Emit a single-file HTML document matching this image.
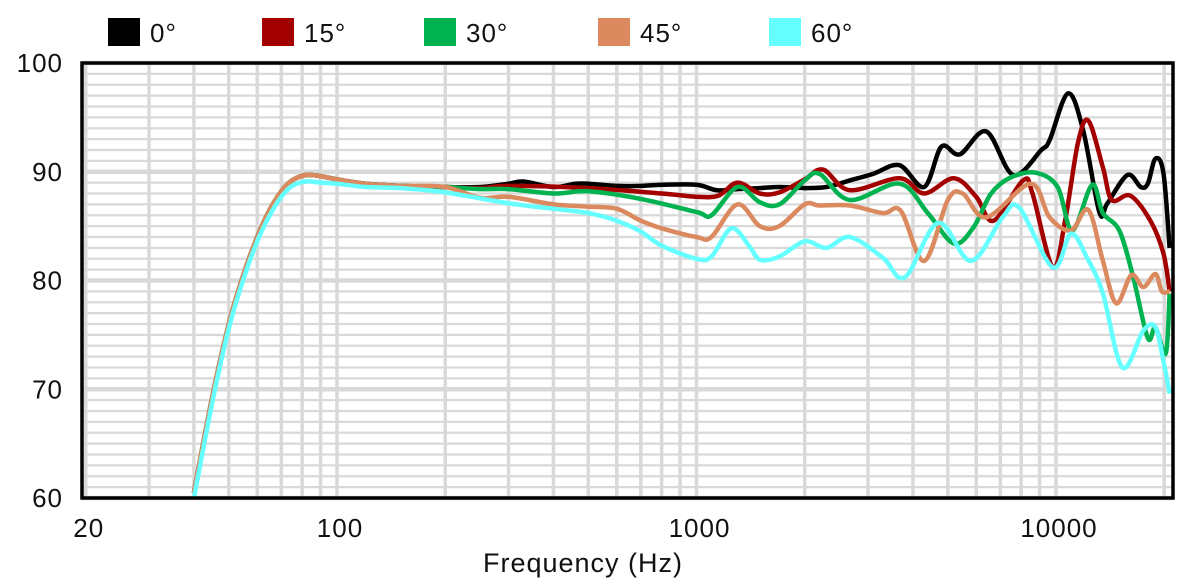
<!DOCTYPE html>
<html><head><meta charset="utf-8"><style>
html,body{margin:0;padding:0;background:#fff;}
svg{display:block;font-family:"Liberation Sans",sans-serif;}
</style></head><body>
<svg id="chart" width="1196" height="586" viewBox="0 0 1196 586">
<g id="grid"></g>
<g id="series"></g>
<rect x="82" y="63" width="1091" height="435" fill="none" stroke="#000" stroke-width="3.5"/>
<g id="axes"></g>
<g id="legend"></g>
<text x="583" y="572" font-size="27" letter-spacing="1" text-anchor="middle" fill="#111">Frequency (Hz)</text>
</svg>
<script>
const yTicks=[60,70,80,90,100];
const xTickLabels=[20,100,1000,10000];
const seriesNames=["0°","15°","30°","45°","60°"];
const seriesColors=["#000000","#a30000","#00b350","#da8a5e","#66ffff"];
const fLow=[40,45,50,55,60,65,70,75,82,90,100,120,150,200];
const vLow=[60.5,69.3,76,80.6,84,86.5,88.2,89.2,89.7,89.6,89.3,88.9,88.7,88.6];
const vLowCyan=[60,68.8,75.6,80.2,83.6,86,87.7,88.7,89.1,89.0,88.9,88.6,88.5,88.1];
const f0=[250,300,330,400,460,500,600,700,800,1000,1140,1300,1500,1700,2000,2300,2670,3100,3670,4300,4800,5400,6400,7600,9100,9600,10800,11900,13200,13900,15800,17200,18000,18900,19900,20700];
const v0=[88.6,88.9,89.1,88.6,88.9,88.9,88.7,88.7,88.8,88.8,88.3,88.4,88.5,88.6,88.5,88.6,89.2,89.8,90.6,88.6,92.3,91.6,93.7,89.7,92,92.9,97.2,93.8,86.3,87.1,89.7,88.6,88.9,91.2,89.9,83];
const f15=[250,300,500,800,1000,1150,1300,1500,1700,2000,2250,2670,3670,4300,5200,6000,6700,8100,8600,9800,10600,11500,12300,13500,14300,16100,18300,19900,20700];
const v15=[88.5,88.7,88.5,88,87.7,87.8,89.0,88,88.1,89.3,90.2,88.3,89.4,88,89.4,87.7,85.5,89.2,88,81.2,85.5,92.6,94.7,90.4,87.4,87.8,85.5,82.5,79];
const f30=[250,300,400,500,700,1000,1100,1300,1500,1700,2000,2200,2670,3670,4400,5200,5900,6600,7500,8800,10100,11100,12600,13500,15000,16400,18000,18900,20200,20700];
const v30=[88.4,88.4,88.0,88.2,87.5,86.3,86.0,88.6,87.2,87.0,89.2,89.8,87.4,88.9,86.2,83.4,84.9,88,89.5,89.9,88.6,84.6,88.8,86.2,84.6,80.3,74.7,75.7,73.3,78.8];
const f45=[250,300,400,500,600,700,800,1000,1100,1300,1500,1700,2000,2200,2670,3300,3700,4300,5000,5500,6400,8500,9600,11000,12300,13500,14700,16200,17500,18900,19700,20700];
const v45=[87.6,87.7,87,86.8,86.6,85.5,84.8,84,84,87,85,85,87,86.9,86.9,86.2,86.4,81.8,87.4,88,85.8,88.9,85.8,84.6,86.5,81.8,77.9,80.5,79.4,80.6,79,79];
const f60=[300,400,500,600,700,800,1000,1100,1250,1400,1500,1700,2000,2300,2670,3300,3800,4700,5800,7100,7900,9800,11000,12200,13500,15300,17500,18900,19900,20700];
const v60=[87.1,86.6,86.2,85.5,84.5,83.2,82.0,82.2,84.8,83.2,81.9,82.2,83.6,83.0,84.0,82.1,80.3,85.3,81.8,85.8,86.7,81.2,84.3,82.1,78.8,72,75.4,75.7,72.6,69.6];

const L=82,R=1173,T=63,B=498;
function xs(f){return 337+359.5*(Math.log10(f)-2);}
function ys(v){return T+(100-v)*(B-T)/40;}
const NS="http://www.w3.org/2000/svg";
function mk(tag,attrs,parent){const e=document.createElementNS(NS,tag);for(const k in attrs)e.setAttribute(k,attrs[k]);parent.appendChild(e);return e;}
const grid=document.getElementById('grid');
for(let v=60;v<=100;v++){
  const l=mk('line',{x1:L,x2:R,y1:ys(v),y2:ys(v),stroke:'#d9d9d9','stroke-width':v%10===0?4.5:2.2},grid);
  
  
}
const vf=[];
[10,100,1000,10000].forEach(d=>{for(let k=1;k<10;k++){const f=d*k;if(f>=20&&f<=20000)vf.push(f);}});
vf.push(20000);
vf.forEach(f=>{
  const l=mk('line',{x1:xs(f),x2:xs(f),y1:T,y2:B,stroke:'#d9d9d9','stroke-width':3.5},grid);
  
  
});
const axes=document.getElementById('axes');
yTicks.forEach(v=>{
  const t=mk('text',{x:63,y:ys(v)+9,'font-size':26,'letter-spacing':1,'text-anchor':'end',fill:'#111'},axes);
  t.textContent=v;
  
  
});
xTickLabels.forEach(f=>{
  const t=mk('text',{x:xs(f)+3,y:537,'font-size':26,'letter-spacing':1,'text-anchor':'middle',fill:'#111'},axes);
  t.textContent=f;
  
  
});
function pathFor(fs,vs){
  const p=fs.map((f,i)=>[xs(f),ys(vs[i])]);
  let d='M'+p[0][0].toFixed(1)+','+p[0][1].toFixed(1);
  for(let i=0;i<p.length-1;i++){
    const p0=p[i-1]||p[i],p1=p[i],p2=p[i+1],p3=p[i+2]||p2;
    const c1=[p1[0]+(p2[0]-p0[0])/6,p1[1]+(p2[1]-p0[1])/6];
    const c2=[p2[0]-(p3[0]-p1[0])/6,p2[1]-(p3[1]-p1[1])/6];
    d+=' C'+c1.map(n=>n.toFixed(1))+' '+c2.map(n=>n.toFixed(1))+' '+p2.map(n=>n.toFixed(1));
  }
  return d;
}
const seriesF=[f0,f15,f30,f45,f60];
const seriesV=[v0,v15,v30,v45,v60];
const sg=document.getElementById('series');
const clip=mk('clipPath',{id:'pc'},sg);mk('rect',{x:L,y:T,width:R-L,height:B-T},clip);
for(let s=0;s<5;s++){
  const fl=fLow.concat(seriesF[s]);
  const vl=(s===4?vLowCyan:vLow).concat(seriesV[s]);
  const p=mk('path',{d:pathFor(fl,vl),fill:'none',stroke:seriesColors[s],'stroke-width':4.5,'stroke-linejoin':'round','clip-path':'url(#pc)'},sg);
  
  
}
const lg=document.getElementById('legend');
const lx=[108,262,424,598,769];
seriesNames.forEach((n,i)=>{
  const r=mk('rect',{x:lx[i],y:18,width:32,height:28,fill:seriesColors[i]},lg);
  
  
  const t=mk('text',{x:lx[i]+42,y:42,'font-size':26,'letter-spacing':1,fill:'#111'},lg);
  t.textContent=n;
  
  
});
</script>
</body></html>
